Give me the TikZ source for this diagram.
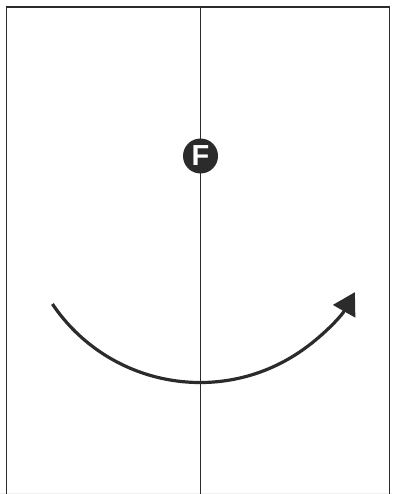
\documentclass[tikz,border=0pt]{standalone}
\usepackage{fontspec}
\setmainfont{Liberation Sans}
\usetikzlibrary{arrows.meta}
\definecolor{ink}{HTML}{2B2B2B}
\begin{document}
\begin{tikzpicture}[x=1pt,y=-1pt,
  frameline/.style={draw=ink,line width=1.5pt},
  midline/.style={draw=ink,line width=1pt},
  badge/.style={circle,fill=ink,minimum size=35pt,inner sep=0pt,text=white,font=\fontsize{29}{29}\selectfont\bfseries},
  turn/.style={draw=ink,line width=3.2pt,-{Triangle[length=22pt,width=25pt]}}]
\useasboundingbox (0,0) rectangle (392,494);
\draw[gray!12,line width=1pt] (0,493.5) -- (392,493.5);
\coordinate (tl) at (6.5,7);
\coordinate (tr) at (389.3,7);
\coordinate (bl) at (6.5,494);
\coordinate (br) at (389.3,494);
\coordinate (mt) at (200.5,7);
\coordinate (mb) at (200.5,494);
\draw[frameline] (bl) -- (tl) -- (tr) -- (br);
\draw[midline] (mt) -- (mb);
\node[badge] (f) at (200.5,156) {F};
\coordinate (c) at (200,204.5);
\draw[turn] ([shift={(146:178)}]c) coordinate (s) arc[start angle=146,end angle=29.5,radius=178];
\end{tikzpicture}
\end{document}
